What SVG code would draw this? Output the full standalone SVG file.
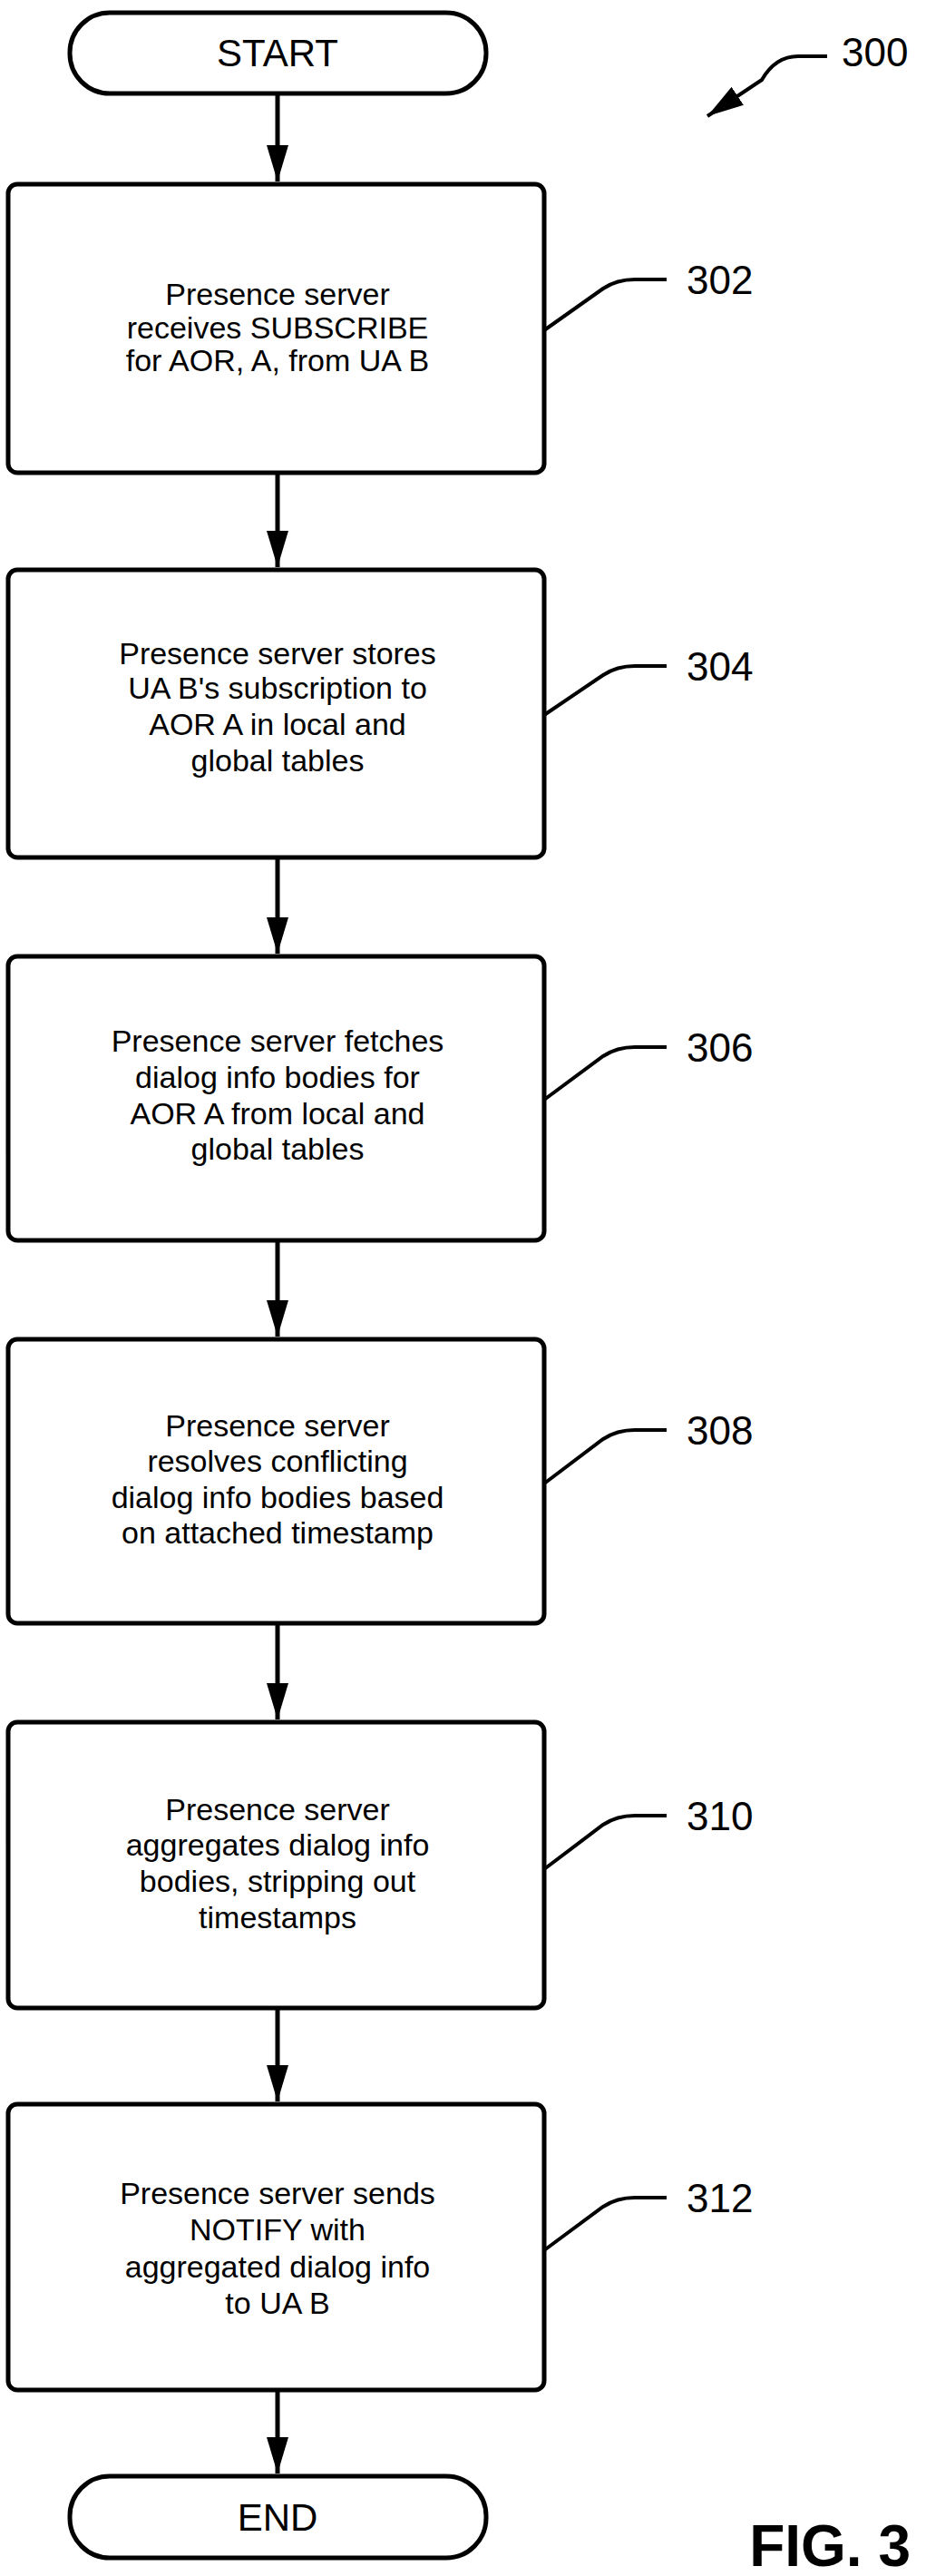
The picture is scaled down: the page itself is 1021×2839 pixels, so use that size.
<svg xmlns="http://www.w3.org/2000/svg" width="1021" height="2839" viewBox="0 0 1021 2839">
<style>
.b{fill:#fff;stroke:#000;stroke-width:5}
.t{font-family:"Liberation Sans",Arial,sans-serif;font-size:34px;text-anchor:middle;fill:#000}
.term{font-family:"Liberation Sans",Arial,sans-serif;font-size:42px;text-anchor:middle;fill:#000}
.lbl{font-family:"Liberation Sans",Arial,sans-serif;font-size:44px;fill:#000}
.c{fill:none;stroke:#000;stroke-width:5}
.l{fill:none;stroke:#000;stroke-width:4}
</style>
<defs>
<marker id="ah2" markerWidth="40" markerHeight="24" refX="40" refY="12" orient="auto" markerUnits="userSpaceOnUse">
<path d="M0,0 L40,12 L0,24 Z" fill="#000"/>
</marker>
</defs>
<g id="connectors">
<line class="c" x1="306" y1="103" x2="306" y2="200" marker-end="url(#ah2)"/>
<line class="c" x1="306" y1="521" x2="306" y2="625" marker-end="url(#ah2)"/>
<line class="c" x1="306" y1="945" x2="306" y2="1051" marker-end="url(#ah2)"/>
<line class="c" x1="306" y1="1367" x2="306" y2="1473" marker-end="url(#ah2)"/>
<line class="c" x1="306" y1="1789" x2="306" y2="1895" marker-end="url(#ah2)"/>
<line class="c" x1="306" y1="2213" x2="306" y2="2316" marker-end="url(#ah2)"/>
<line class="c" x1="306" y1="2634" x2="306" y2="2726" marker-end="url(#ah2)"/>
</g>
<g id="start"><rect class="b" x="77" y="14" width="459" height="89" rx="44"/><text class="term" x="306" y="73">START</text></g>
<g id="n302"><rect class="b" x="9" y="203" width="591" height="318" rx="10"/>
<text class="t"><tspan x="306" y="336">Presence server</tspan><tspan x="306" y="373">receives SUBSCRIBE</tspan><tspan x="306" y="409">for AOR, A, from UA B</tspan></text>
<path class="l" d="M600,364 L665,318 Q680,308 700,308 L735,308"/><text class="lbl" x="757" y="324">302</text></g>
<g id="n304"><rect class="b" x="9" y="628" width="591" height="317" rx="10"/>
<text class="t"><tspan x="306" y="732">Presence server stores</tspan><tspan x="306" y="770">UA B's subscription to</tspan><tspan x="306" y="810">AOR A in local and</tspan><tspan x="306" y="850">global tables</tspan></text>
<path class="l" d="M600,788 L665,744 Q680,734 700,734 L735,734"/><text class="lbl" x="757" y="750">304</text></g>
<g id="n306"><rect class="b" x="9" y="1054" width="591" height="313" rx="10"/>
<text class="t"><tspan x="306" y="1159">Presence server fetches</tspan><tspan x="306" y="1199">dialog info bodies for</tspan><tspan x="306" y="1239">AOR A from local and</tspan><tspan x="306" y="1278">global tables</tspan></text>
<path class="l" d="M600,1212 L665,1164 Q680,1154 700,1154 L735,1154"/><text class="lbl" x="757" y="1170">306</text></g>
<g id="n308"><rect class="b" x="9" y="1476" width="591" height="313" rx="10"/>
<text class="t"><tspan x="306" y="1583">Presence server</tspan><tspan x="306" y="1622">resolves conflicting</tspan><tspan x="306" y="1662">dialog info bodies based</tspan><tspan x="306" y="1701">on attached timestamp</tspan></text>
<path class="l" d="M600,1635 L665,1586 Q680,1576 700,1576 L735,1576"/><text class="lbl" x="757" y="1592">308</text></g>
<g id="n310"><rect class="b" x="9" y="1898" width="591" height="315" rx="10"/>
<text class="t"><tspan x="306" y="2006">Presence server</tspan><tspan x="306" y="2045">aggregates dialog info</tspan><tspan x="306" y="2085">bodies, stripping out</tspan><tspan x="306" y="2125">timestamps</tspan></text>
<path class="l" d="M600,2060 L665,2011 Q680,2001 700,2001 L735,2001"/><text class="lbl" x="757" y="2017">310</text></g>
<g id="n312"><rect class="b" x="9" y="2319" width="591" height="315" rx="10"/>
<text class="t"><tspan x="306" y="2429">Presence server sends</tspan><tspan x="306" y="2469">NOTIFY with</tspan><tspan x="306" y="2510">aggregated dialog info</tspan><tspan x="306" y="2550">to UA B</tspan></text>
<path class="l" d="M600,2480 L665,2432 Q680,2422 700,2422 L735,2422"/><text class="lbl" x="757" y="2438">312</text></g>
<g id="end"><rect class="b" x="77" y="2729" width="459" height="90" rx="44"/><text class="term" x="306" y="2789">END</text></g>
<g id="ref300"><path class="l" d="M912,62 L880,62 Q855,62 840,88 L780,128" marker-end="url(#ah2)"/><text class="lbl" x="928" y="73">300</text></g>
<text x="1004" y="2828" text-anchor="end" font-family="'Liberation Sans',Arial,sans-serif" font-size="64" font-weight="bold">FIG. 3</text>
</svg>
